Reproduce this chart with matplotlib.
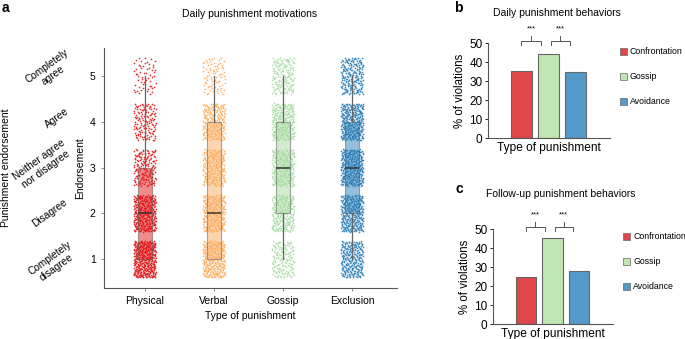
import numpy as np
import matplotlib.pyplot as plt
from matplotlib.patches import Rectangle

plt.rcParams['font.family'] = ['Liberation Sans', 'DejaVu Sans']
plt.rcParams['font.size'] = 7.5

# panel a: counts of responses per endorsement level (1..5)
levels = [1, 2, 3, 4, 5]
types_a = ['Physical', 'Verbal', 'Gossip', 'Exclusion']
counts_physical = [380, 330, 160, 130, 60]
counts_verbal = [280, 260, 210, 210, 80]
counts_gossip = [140, 210, 240, 250, 150]
counts_exclusion = [240, 300, 320, 300, 200]
colors_a = ['#e31a1c', '#fdae61', '#a6dba0', '#2c7fb8']

# panels b and c
types_bc = ['Confrontation', 'Gossip', 'Avoidance']
daily_pct = [35.5, 44.2, 35.0]
followup_pct = [24.7, 45.3, 28.0]
colors_bc = ['#e0464a', '#bfe5b3', '#5399cb']


def halton(n, base):
    out = np.zeros(n)
    for i in range(n):
        f, r, k = 1.0, 0.0, i + 1
        while k > 0:
            f /= base
            r += f * (k % base)
            k //= base
        out[i] = r
    return out


fig = plt.figure(figsize=(6.85, 3.39), dpi=100)

# ---- panel a ----
ax = fig.add_axes([0.1518, 0.1504, 0.4277, 0.708])
all_counts = [counts_physical, counts_verbal, counts_gossip, counts_exclusion]
responses = []
for i, (cnt, col) in enumerate(zip(all_counts, colors_a)):
    y = np.repeat(levels, cnt).astype(float)
    responses.append(y.copy())
    n = len(y)
    jx = (halton(n, 2) - 0.5) * 0.32
    jy = (halton(n, 3) - 0.5) * 0.8
    ax.scatter(i + jx, y + jy, s=1.5, color=col, linewidths=0, alpha=0.9, zorder=1)

bp = ax.boxplot(responses, positions=range(4), widths=0.2, whis=(0, 100),
                patch_artist=True, showcaps=False, showfliers=False, zorder=2)
for patch, col in zip(bp['boxes'], colors_a):
    patch.set_facecolor(col)
    patch.set_alpha(0.5)
    patch.set_edgecolor('#555555')
    patch.set_linewidth(0.8)
for w in bp['whiskers']:
    w.set_color('#666666')
    w.set_linewidth(0.9)
for m in bp['medians']:
    m.set_color('#333333')
    m.set_linewidth(1.1)

ax.set_xlim(-0.59, 3.65)
ax.set_ylim(0.37, 5.61)
ax.set_yticks(levels)
ax.set_xticks(range(4))
ax.set_xticklabels(types_a)
ax.set_ylabel('Endorsement', labelpad=3)
ax.set_xlabel('Type of punishment', labelpad=3)
for s in ['top', 'right']:
    ax.spines[s].set_visible(False)
for s in ['left', 'bottom']:
    ax.spines[s].set_color('#555555')
    ax.spines[s].set_linewidth(0.8)
ax.tick_params(length=2, width=0.6, color='#777777', pad=4)

fig.text(250 / 685, 1 - 14 / 339, 'Daily punishment motivations', ha='center', va='center')
fig.text(2 / 685, 1 - 8 / 339, 'a', fontweight='bold', fontsize=10, ha='left', va='center')
fig.text(6 / 685, 1 - 168 / 339, 'Punishment endorsement', rotation=90, ha='center', va='center')
side_labels = ['Completely\nagree', 'Agree', 'Neither agree\nnor disagree', 'Disagree', 'Completely\ndisagree']
side_pos = [(50, 71), (57, 118), (42, 165), (50, 213), (53, 263)]
for lab, (px, py) in zip(side_labels, side_pos):
    fig.text(px / 685, 1 - py / 339, lab, rotation=36, ha='center', va='center',
             multialignment='center', rotation_mode='anchor', fontsize=7.3)


# ---- panels b, c ----
def bar_panel(rect, vals, title, letter, title_xy, letter_xy, leg_x, legend_y):
    axb = fig.add_axes(rect)
    x = np.arange(len(vals))
    axb.bar(x, vals, width=0.78, color=colors_bc, edgecolor='#666666', linewidth=0.8)
    axb.set_xlim(-1.24, 3.28)
    axb.set_ylim(0, 50)
    axb.set_yticks([0, 10, 20, 30, 40, 50])
    axb.set_xticks([])
    axb.set_ylabel('% of violations', labelpad=2, fontsize=8.3)
    axb.set_xlabel('Type of punishment', labelpad=3, fontsize=8.6)
    for s in ['top', 'right']:
        axb.spines[s].set_visible(False)
    for s in ['left', 'bottom']:
        axb.spines[s].set_color('#555555')
        axb.spines[s].set_linewidth(0.8)
    axb.tick_params(axis='y', length=2, width=0.6, pad=2, labelsize=8.5)
    # significance brackets
    for x0, x1 in [(0.0, 0.72), (1.08, 1.78)]:
        xm = (x0 + x1) / 2
        axb.plot([x0, x0, x1, x1], [49, 51.2, 51.2, 49], color='#555555', lw=0.7, clip_on=False)
        axb.plot([xm, xm], [51.2, 53.8], color='#555555', lw=0.7, clip_on=False)
        axb.text(xm, 57.5, '***', ha='center', va='center', fontsize=5.5, clip_on=False)
    fig.text(title_xy[0] / 685, 1 - title_xy[1] / 339, title, ha='center', va='center')
    fig.text(letter_xy[0] / 685, 1 - letter_xy[1] / 339, letter, fontweight='bold',
             fontsize=10, ha='left', va='center')
    for lab, col, ly in zip(types_bc, colors_bc, legend_y):
        fig.patches.append(Rectangle(((leg_x - 3.5) / 685, 1 - (ly + 3.5) / 339),
                                     7 / 685, 7 / 339, transform=fig.transFigure,
                                     facecolor=col, edgecolor='#666666', linewidth=0.5))
        fig.text((leg_x + 7) / 685, 1 - ly / 339, lab, ha='left', va='center', fontsize=6.3)
    return axb


bar_panel([0.7124, 0.5929, 0.1781, 0.2802], daily_pct, 'Daily punishment behaviors', 'b',
          (557, 13), (454, 8), 623, [51.7, 76.7, 101])
bar_panel([0.7197, 0.0434, 0.1752, 0.2802], followup_pct, 'Follow-up punishment behaviors', 'c',
          (561, 194), (455, 189), 626, [236.7, 261.7, 286.7])

fig.savefig('out.png', dpi=100)
